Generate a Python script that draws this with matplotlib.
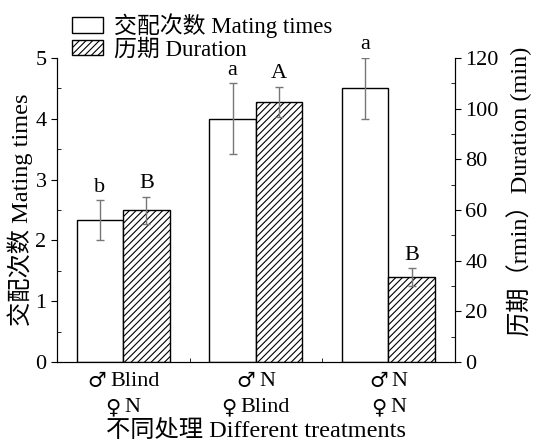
import numpy as np
import matplotlib.pyplot as plt
from matplotlib.patches import Patch
from matplotlib.ticker import MultipleLocator

plt.rcParams['font.family'] = ['Liberation Serif', 'Noto Sans CJK SC', 'DejaVu Sans']
plt.rcParams['hatch.linewidth'] = 0.8

# each treatment: (male symbol, male state), (female symbol, female state)
treatments = [[('♂', 'Blind'), ('♀', 'N')],
              [('♂', 'N'), ('♀', 'Blind')],
              [('♂', 'N'), ('♀', 'N')]]
mating = [2.33, 4.0, 4.5]
mating_err = [0.33, 0.58, 0.5]
mating_sig = ['b', 'a', 'a']
duration = [59.8, 102.5, 33.5]
duration_err = [5.5, 6.0, 3.5]
duration_sig = ['B', 'A', 'B']

x = np.arange(len(treatments))
w = 0.35
DPI = 100

fig = plt.figure(figsize=(5.42, 4.42), dpi=DPI)
ax = fig.add_axes([0.105, 0.181, 0.734, 0.688])
ax2 = ax.twinx()

ax.bar(x - w / 2, mating, w, color='white', edgecolor='black', linewidth=1.0, zorder=2)
ax.errorbar(x - w / 2, mating, yerr=mating_err, fmt='none', ecolor='#777777',
            elinewidth=1.0, capsize=3, zorder=3)
ax2.bar(x + w / 2, duration, w, color='white', edgecolor='black', hatch='/////',
        linewidth=1.0, zorder=2)
ax2.errorbar(x + w / 2, duration, yerr=duration_err, fmt='none', ecolor='#777777',
             elinewidth=1.0, capsize=3, zorder=3)

for xi, v, e, s in zip(x - w / 2, mating, mating_err, mating_sig):
    ax.text(xi, v + e + 0.06, s, ha='center', va='bottom', fontsize=16)
for xi, v, e, s in zip(x + w / 2, duration, duration_err, duration_sig):
    ax2.text(xi, v + e + 1.4, s, ha='center', va='bottom', fontsize=16)

ax.set_xlim(-0.5, 2.5)
ax.set_ylim(0, 5)
ax2.set_ylim(0, 120)
ax.set_xticks(x)
ax.set_xticklabels([''] * len(x))
ax.set_xticks([0.5, 1.5], minor=True)
ax.tick_params(axis='x', which='major', length=0)
ax.tick_params(axis='x', which='minor', direction='in', length=3)

ax.yaxis.set_major_locator(MultipleLocator(1))
ax.yaxis.set_minor_locator(MultipleLocator(0.5))
ax.tick_params(axis='y', which='major', direction='out', length=4, labelsize=16)
ax.tick_params(axis='y', which='minor', direction='in', length=3)
ax2.yaxis.set_major_locator(MultipleLocator(20))
ax2.yaxis.set_minor_locator(MultipleLocator(10))
ax2.tick_params(axis='y', which='major', direction='out', length=4, labelsize=16)
ax2.tick_params(axis='y', which='minor', direction='in', length=3)

ax.spines['top'].set_visible(False)
ax2.spines['top'].set_visible(False)

ax.set_ylabel('交配次数 Mating times', fontsize=17.5, labelpad=2)
ax2.set_ylabel('历期（rmin）Duration (min)', fontsize=17.5)
ax2.yaxis.set_label_coords(1.13, 0.56)
ax.set_xlabel('不同处理 Different treatments', fontsize=17.5)
ax.xaxis.set_label_coords(0.5, -0.19)

# sex symbol in DejaVu Sans, state in serif, each line centred under its group
renderer = fig.canvas.get_renderer()
xt = ax.get_xaxis_transform()
gap = 4 * 72 / DPI
for xi, lines in zip(x, treatments):
    for row, (sym, name) in enumerate(lines):
        dy = -14 - row * 18.5
        ts = ax.annotate(sym, (xi, 0), xycoords=xt, textcoords='offset points',
                         xytext=(0, dy), ha='left', va='center', fontsize=15,
                         family='DejaVu Sans')
        tn = ax.annotate(name, (xi, 0), xycoords=xt, textcoords='offset points',
                         xytext=(0, dy), ha='left', va='center', fontsize=16)
        ws = ts.get_window_extent(renderer).width * 72 / DPI
        wn = tn.get_window_extent(renderer).width * 72 / DPI
        left = -(ws + gap + wn) / 2
        ts.set_position((left, dy))
        tn.set_position((left + ws + gap, dy))

handles = [Patch(facecolor='white', edgecolor='black', linewidth=1.0),
           Patch(facecolor='white', edgecolor='black', hatch='/////', linewidth=1.0)]
fig.legend(handles, ['交配次数 Mating times', '历期 Duration'], loc='upper left',
           bbox_to_anchor=(0.124, 0.98), frameon=False, fontsize=16.5,
           handlelength=1.35, handleheight=0.65, handletextpad=0.5,
           labelspacing=0.05, borderpad=0.2, borderaxespad=0)

fig.savefig('out.png', dpi=DPI)
